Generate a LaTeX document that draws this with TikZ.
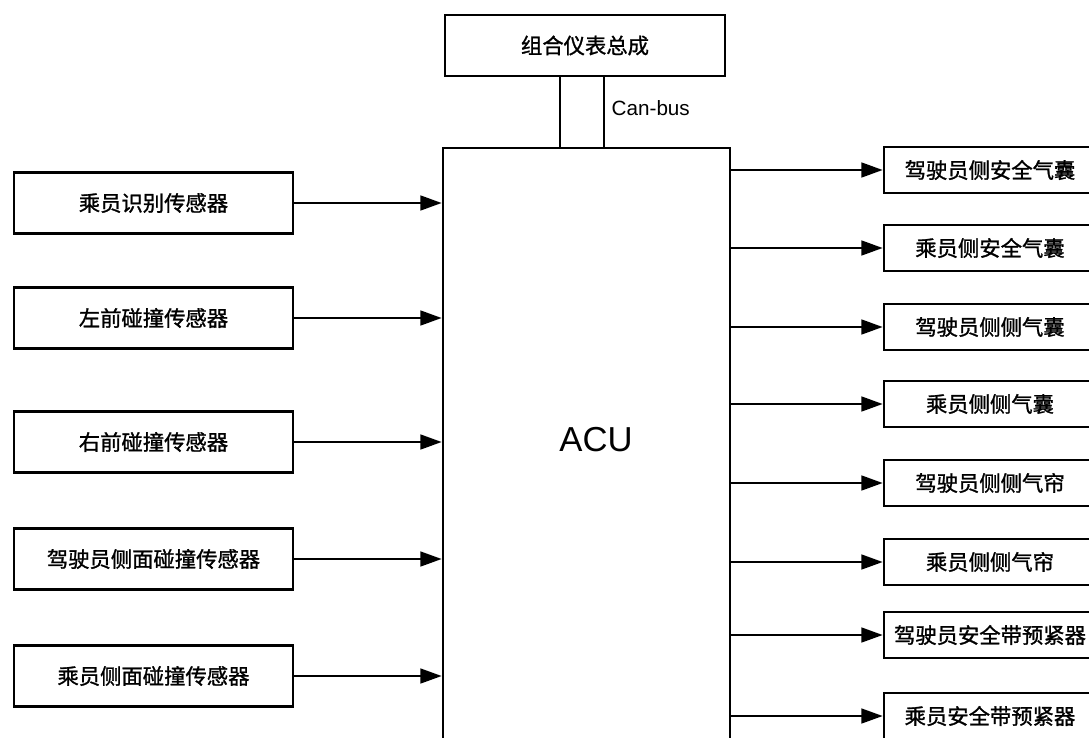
\documentclass[tikz,border=0pt]{standalone}
\usepackage{fontspec}
\setmainfont{Liberation Sans}
\newfontfamily\cjk[FakeBold=1.2]{Noto Sans CJK SC}
\usetikzlibrary{arrows.meta,calc}
\begin{document}
\begin{tikzpicture}[x=0.75pt,y=-0.75pt,
  box/.style={draw,line width=1.9pt,fill=white,inner sep=0pt,font=\cjk\fontsize{16}{18}\selectfont},
  lbox/.style={box,minimum width=279*0.75pt,minimum height=61*0.75pt},
  rbox/.style={box,minimum width=212*0.75pt,minimum height=46*0.75pt},
  arr/.style={line width=1.9pt,-{Triangle[length=16pt,width=11pt]}},
  wire/.style={line width=1.9pt}]
\clip (0,0) rectangle (1089,738);
\fill[white] (0,0) rectangle (1089,738);
% top
\node[box,minimum width=280*0.75pt,minimum height=61*0.75pt] (top) at (585,45.5) {组合仪表总成};
% ACU
\node[draw,line width=1.9pt,minimum width=287*0.75pt,minimum height=612*0.75pt,inner sep=0pt] (acu) at (586.5,454) {};
\node[font=\fontsize{26}{30}\selectfont] (acul) at (596,440) {ACU};
% bus
\coordinate (b1) at ($(top.south)+(-25,0)$);
\coordinate (b2) at ($(top.south)+(19,0)$);
\draw[wire] (b1) -- (b1 |- acu.north);
\draw[wire] (b2) -- (b2 |- acu.north);
\node[font=\fontsize{15.5}{18}\selectfont,anchor=west] (can) at (607,108) {Can-bus};
% left
\node[lbox] (l1) at (153.5,203) {乘员识别传感器};
\node[lbox] (l2) at (153.5,318) {左前碰撞传感器};
\node[lbox] (l3) at (153.5,442) {右前碰撞传感器};
\node[lbox] (l4) at (153.5,559) {驾驶员侧面碰撞传感器};
\node[lbox] (l5) at (153.5,676) {乘员侧面碰撞传感器};
\foreach \i in {1,...,5}{\draw[arr] (l\i.east) -- (l\i.east -| acu.west);}
% right
\node[rbox] (r1) at (990,170) {驾驶员侧安全气囊};
\node[rbox] (r2) at (990,248) {乘员侧安全气囊};
\node[rbox] (r3) at (990,327) {驾驶员侧侧气囊};
\node[rbox] (r4) at (990,404) {乘员侧侧气囊};
\node[rbox] (r5) at (990,483) {驾驶员侧侧气帘};
\node[rbox] (r6) at (990,562) {乘员侧侧气帘};
\node[rbox] (r7) at (990,635) {驾驶员安全带预紧器};
\node[rbox] (r8) at (990,716) {乘员安全带预紧器};
\foreach \i in {1,...,8}{\draw[arr] (acu.east |- r\i.west) -- (r\i.west);}
\end{tikzpicture}
\end{document}
